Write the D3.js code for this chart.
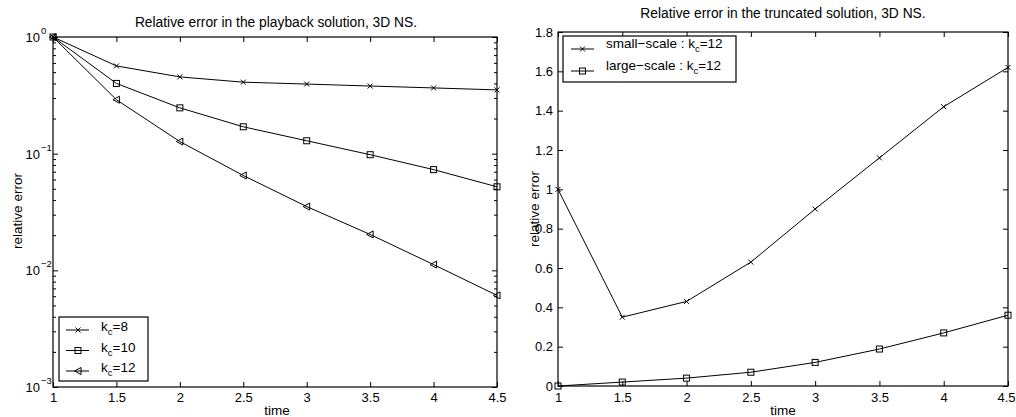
<!DOCTYPE html>
<html>
<head>
<meta charset="utf-8">
<script src="https://cdn.jsdelivr.net/npm/d3@7"></script>
<style>
  body { margin: 0; background: #fff; }
  text { font-family: "Liberation Sans", Arial, sans-serif; fill: #000; }
</style>
</head>
<body>
<div id="chart"></div>
<script>
// data
var times = [1, 1.5, 2, 2.5, 3, 3.5, 4, 4.5];
var kc8  = [1, 0.565, 0.455, 0.41, 0.395, 0.38, 0.366, 0.352];
var kc10 = [1, 0.40, 0.247, 0.170, 0.129, 0.098, 0.073, 0.052];
var kc12 = [1, 0.29, 0.127, 0.065, 0.0352, 0.0203, 0.0112, 0.0061];
var smallScale = [1, 0.35, 0.43, 0.63, 0.90, 1.16, 1.42, 1.62];
var largeScale = [0, 0.02, 0.04, 0.07, 0.12, 0.188, 0.27, 0.36];
var xTicks = [1, 1.5, 2, 2.5, 3, 3.5, 4, 4.5];
var logTicks = [1e-3, 1e-2, 1e-1, 1];
var linTicks = [0, 0.2, 0.4, 0.6, 0.8, 1, 1.2, 1.4, 1.6, 1.8];

var W = 1016, H = 417;
var FS = 13, LFS = 13.5, SUB = 9.5;
var svg = d3.select('#chart').append('svg')
    .attr('width', W).attr('height', H);

function drawMarker(g, type, x, y) {
    if (type == 'x') {
        g.append('path')
            .attr('d', 'M' + (x-2.5) + ',' + (y-2.5) + 'L' + (x+2.5) + ',' + (y+2.5) +
                       'M' + (x-2.5) + ',' + (y+2.5) + 'L' + (x+2.5) + ',' + (y-2.5))
            .attr('stroke', '#000').attr('stroke-width', 1).attr('fill', 'none');
    } else if (type == 'sq') {
        g.append('rect')
            .attr('x', x-3).attr('y', y-3).attr('width', 6).attr('height', 6)
            .attr('stroke', '#000').attr('stroke-width', 1).attr('fill', 'none');
    } else {
        g.append('path')
            .attr('d', 'M' + (x-3.5) + ',' + y + 'L' + (x+3) + ',' + (y-3.5) + 'L' + (x+3) + ',' + (y+3.5) + 'Z')
            .attr('stroke', '#000').attr('stroke-width', 1).attr('fill', 'none');
    }
}

function drawSeries(g, x, y, vals, type) {
    var pts = times.map(function(t, i) { return [x(t), y(vals[i])]; });
    g.append('path')
        .attr('d', d3.line()(pts))
        .attr('fill', 'none').attr('stroke', '#000').attr('stroke-width', 1);
    pts.forEach(function(p) { drawMarker(g, type, p[0], p[1]); });
}

function drawFrame(g, x, y) {
    var r = x.range(), b = y.range();
    g.append('rect')
        .attr('x', r[0]).attr('y', b[1])
        .attr('width', r[1]-r[0]).attr('height', b[0]-b[1])
        .attr('fill', 'none').attr('stroke', '#000').attr('stroke-width', 1.2);
}

function styleAxis(a) {
    a.select('.domain').remove();
    a.selectAll('line').attr('stroke', '#000');
    a.selectAll('text').attr('font-size', FS);
}

// ---------- left: playback, log scale ----------
var x1 = d3.scaleLinear().domain([1, 4.5]).range([53, 497]);
var y1 = d3.scaleLog().domain([1e-3, 1]).range([387, 37]);
var g1 = svg.append('g');

var minor = [];
[1e-3, 1e-2, 1e-1].forEach(function(d) {
    for (var k = 2; k <= 9; k++) minor.push(d*k);
});

g1.append('g').attr('transform', 'translate(0,387)')
    .call(d3.axisBottom(x1).tickValues(xTicks).tickSize(-5).tickPadding(6).tickFormat(d3.format('~g')))
    .call(styleAxis);
g1.append('g').attr('transform', 'translate(0,37)')
    .call(d3.axisTop(x1).tickValues(xTicks).tickSize(-5).tickFormat(''))
    .call(styleAxis);
g1.append('g').attr('transform', 'translate(53,0)')
    .call(d3.axisLeft(y1).tickValues(logTicks).tickSize(-5).tickFormat(''))
    .call(styleAxis);
g1.append('g').attr('transform', 'translate(53,0)')
    .call(d3.axisLeft(y1).tickValues(minor).tickSize(-3).tickFormat(''))
    .call(styleAxis);
g1.append('g').attr('transform', 'translate(497,0)')
    .call(d3.axisRight(y1).tickValues(logTicks).tickSize(-5).tickFormat(''))
    .call(styleAxis);
g1.append('g').attr('transform', 'translate(497,0)')
    .call(d3.axisRight(y1).tickValues(minor).tickSize(-3).tickFormat(''))
    .call(styleAxis);

// 10^n labels
logTicks.forEach(function(d) {
    var e = Math.round(Math.log10(d));
    g1.append('text')
        .attr('x', 40).attr('y', y1(d) + 5)
        .attr('text-anchor', 'end').attr('font-size', FS).text('10');
    g1.append('text')
        .attr('x', 41).attr('y', y1(d) - 3)
        .attr('font-size', SUB).text(e == 0 ? '0' : '\u2212' + Math.abs(e));
});

drawFrame(g1, x1, y1);
drawSeries(g1, x1, y1, kc8, 'x');
drawSeries(g1, x1, y1, kc10, 'sq');
drawSeries(g1, x1, y1, kc12, 'tri');

g1.append('text').attr('x', 276).attr('y', 27).attr('text-anchor', 'middle')
    .attr('font-size', 13.8).text('Relative error in the playback solution, 3D NS.');
g1.append('text').attr('x', 277).attr('y', 414.5).attr('text-anchor', 'middle')
    .attr('font-size', LFS).text('time');
g1.append('text').attr('transform', 'translate(22,211) rotate(-90)').attr('text-anchor', 'middle')
    .attr('font-size', LFS).text('relative error');

// legend left
var leg1 = g1.append('g');
leg1.append('rect').attr('x', 59).attr('y', 317).attr('width', 89).attr('height', 64)
    .attr('fill', '#fff').attr('stroke', '#000').attr('stroke-width', 1.2);
var legItems1 = [['8', 'x'], ['10', 'sq'], ['12', 'tri']];
legItems1.forEach(function(it, i) {
    var yy = 330 + i*20.5;
    leg1.append('line').attr('x1', 66).attr('x2', 89).attr('y1', yy).attr('y2', yy)
        .attr('stroke', '#000').attr('stroke-width', 1);
    drawMarker(leg1, it[1], 78, yy);
    var t = leg1.append('text').attr('x', 101).attr('y', yy + 1).attr('font-size', LFS);
    t.append('tspan').text('k');
    t.append('tspan').attr('dy', 4).attr('font-size', SUB).text('c');
    t.append('tspan').attr('dy', -4).text('=' + it[0]);
});

// ---------- right: truncated, linear ----------
var x2 = d3.scaleLinear().domain([1, 4.5]).range([558, 1008]);
var y2 = d3.scaleLinear().domain([0, 1.8]).range([386, 32]);
var g2 = svg.append('g');

g2.append('g').attr('transform', 'translate(0,386)')
    .call(d3.axisBottom(x2).tickValues(xTicks).tickSize(-5).tickPadding(7).tickFormat(d3.format('~g')))
    .call(styleAxis)
    .call(function(a) {
        // last label sits on the page edge; pull it in a touch
        a.selectAll('.tick').filter(function(d) { return d == 4.5; })
            .select('text').attr('dx', -2);
    });
g2.append('g').attr('transform', 'translate(0,32)')
    .call(d3.axisTop(x2).tickValues(xTicks).tickSize(-5).tickFormat(''))
    .call(styleAxis);
g2.append('g').attr('transform', 'translate(558,0)')
    .call(d3.axisLeft(y2).tickValues(linTicks).tickSize(-5).tickPadding(5).tickFormat(d3.format('~g')))
    .call(styleAxis);
g2.append('g').attr('transform', 'translate(1008,0)')
    .call(d3.axisRight(y2).tickValues(linTicks).tickSize(-5).tickFormat(''))
    .call(styleAxis);

drawFrame(g2, x2, y2);
drawSeries(g2, x2, y2, smallScale, 'x');
drawSeries(g2, x2, y2, largeScale, 'sq');

g2.append('text').attr('x', 783).attr('y', 18).attr('text-anchor', 'middle')
    .attr('font-size', 13.8).text('Relative error in the truncated solution, 3D NS.');
g2.append('text').attr('x', 783).attr('y', 414.5).attr('text-anchor', 'middle')
    .attr('font-size', LFS).text('time');
g2.append('text').attr('transform', 'translate(539,209) rotate(-90)').attr('text-anchor', 'middle')
    .attr('font-size', LFS).text('relative error');

var leg2 = g2.append('g');
leg2.append('rect').attr('x', 563).attr('y', 36).attr('width', 173).attr('height', 46)
    .attr('fill', '#fff').attr('stroke', '#000').attr('stroke-width', 1.2);
var legItems2 = [['small\u2212scale', 'x'], ['large\u2212scale', 'sq']];
legItems2.forEach(function(it, i) {
    var yy = 49 + i*22;
    leg2.append('line').attr('x1', 571).attr('x2', 594).attr('y1', yy).attr('y2', yy)
        .attr('stroke', '#000').attr('stroke-width', 1);
    drawMarker(leg2, it[1], 582.5, yy);
    var t = leg2.append('text').attr('x', 606).attr('y', yy - 1).attr('font-size', LFS);
    t.append('tspan').text(it[0] + ' : k');
    t.append('tspan').attr('dy', 4).attr('font-size', SUB).text('c');
    t.append('tspan').attr('dy', -4).text('=12');
});
</script>
</body>
</html>
